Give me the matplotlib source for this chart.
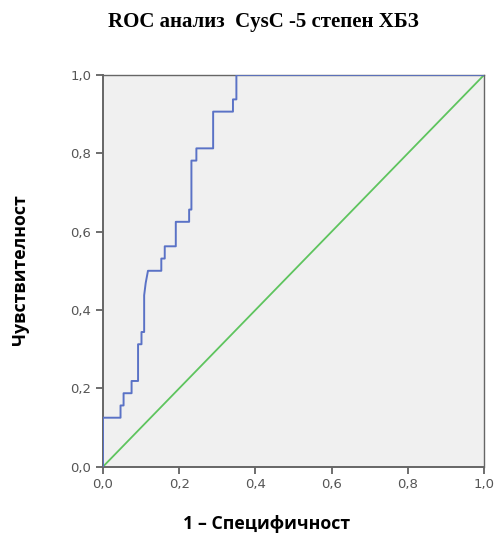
import matplotlib
matplotlib.use("Agg")
import matplotlib.pyplot as plt
from matplotlib.ticker import FuncFormatter

# ROC curve points (1 - specificity, sensitivity)
fpr = [0.0, 0.0, 0.046, 0.046, 0.054, 0.054, 0.075, 0.075, 0.092, 0.092,
       0.101, 0.101, 0.108, 0.108, 0.112, 0.118, 0.153, 0.153, 0.162, 0.162,
       0.191, 0.191, 0.226, 0.226, 0.232, 0.232, 0.245, 0.245, 0.289, 0.289,
       0.341, 0.341, 0.350, 0.350, 1.0]
tpr = [0.0, 0.125, 0.125, 0.15625, 0.15625, 0.1875, 0.1875, 0.21875, 0.21875, 0.3125,
       0.3125, 0.34375, 0.34375, 0.4375, 0.46875, 0.5, 0.5, 0.53125, 0.53125, 0.5625,
       0.5625, 0.625, 0.625, 0.65625, 0.65625, 0.78125, 0.78125, 0.8125, 0.8125, 0.90625,
       0.90625, 0.9375, 0.9375, 1.0, 1.0]
ref = [0.0, 1.0]
ticks = [0.0, 0.2, 0.4, 0.6, 0.8, 1.0]

fig = plt.figure(figsize=(4.94, 5.35), dpi=100)
ax = fig.add_axes([0.2085, 0.1277, 0.7715, 0.7323])
ax.set_facecolor("#f0f0f0")

ax.plot(ref, ref, color="#5ec45e", lw=1.3, zorder=2)
ax.plot(fpr, tpr, color="#5a72c6", lw=1.4, zorder=3)

ax.set_xlim(0, 1)
ax.set_ylim(0, 1)
ax.set_xticks(ticks)
ax.set_yticks(ticks)
fmt = FuncFormatter(lambda v, p: f"{v:.1f}".replace(".", ","))
ax.xaxis.set_major_formatter(fmt)
ax.yaxis.set_major_formatter(fmt)
ax.tick_params(direction="out", length=5, width=1.2, color="#555555",
               labelcolor="#555555", labelsize=9.5)
for s in ax.spines.values():
    s.set_color("#666666")
    s.set_linewidth(1.0)
ax.spines["left"].set_linewidth(1.4)
ax.spines["bottom"].set_linewidth(1.4)

fig.text(263 / 494, 1 - 22 / 535, "ROC анализ  CysC -5 степен ХБЗ",
         ha="center", va="center", fontsize=15, fontweight="bold",
         family="Liberation Serif")
fig.text(267 / 494, 1 - 524 / 535, "1 – Специфичност", ha="center", va="center",
         fontsize=12.8, fontweight="bold", family="Open Sans")
fig.text(20 / 494, 1 - 270 / 535, "Чувствителност", ha="center", va="center",
         rotation=90, fontsize=12.8, fontweight="bold", family="Open Sans")

fig.savefig("out.png", dpi=100)
